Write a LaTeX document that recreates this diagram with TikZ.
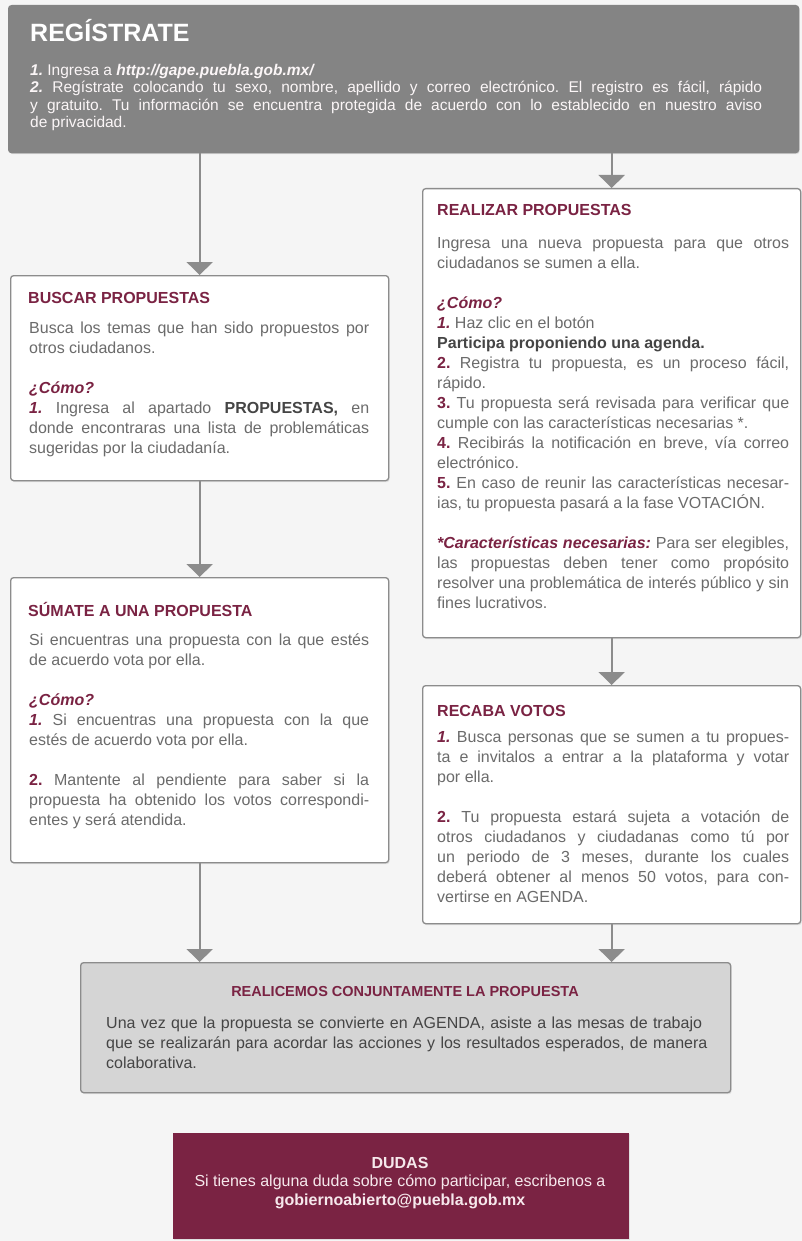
\documentclass[tikz,border=0pt]{standalone}
\usepackage{fontspec}
\setmainfont{Liberation Sans}
\usetikzlibrary{arrows.meta, shadows, positioning}
\frenchspacing
\definecolor{vino}{HTML}{7A2343}
\definecolor{letra}{HTML}{6B6B6B}
\definecolor{oscuro}{HTML}{454545}
\definecolor{borde}{HTML}{8C8C8C}
\definecolor{banda}{HTML}{848484}
\definecolor{fondo}{HTML}{F5F5F5}
\definecolor{gris}{HTML}{D5D5D5}
\definecolor{rosa}{HTML}{F6E8EC}
\newcommand{\nro}[1]{{\color{vino}\bfseries #1}}
\newcommand{\como}{{\color{vino}\bfseries\itshape ¿Cómo?}}
\newcommand{\fuerte}[1]{{\color{oscuro}\bfseries #1}}
\tikzstyle{caja}=[draw=borde, line width=1.3pt, rounded corners=3pt, fill=white, inner sep=0pt, anchor=north west, drop shadow={opacity=.18, shadow xshift=1pt, shadow yshift=-1.5pt}]
\tikzstyle{tit}=[anchor=base west, inner sep=0pt, text=vino, font=\fontsize{16}{18}\selectfont\bfseries]
\tikzstyle{cuerpo}=[anchor=north west, inner sep=0pt, text=letra, align=justify, font=\fontsize{16}{20}\selectfont]
\tikzstyle{flecha}=[draw=borde, line width=2pt, -{Triangle[width=26pt,length=13pt]}]

\begin{document}
\begin{tikzpicture}[x=1pt,y=-1pt]
\useasboundingbox (0,0) rectangle (802,1241);
\fill[fondo] (0,0) rectangle (802,1241);
% cajas
\node[caja, fill=banda, draw=banda, minimum width=790pt, minimum height=147pt] (reg) at (8,5) {};
\node[caja, minimum width=378pt, minimum height=205pt] (buscar) at (10,275) {};
\node[caja, minimum width=378pt, minimum height=285pt] (sumate) at (10,577) {};
\node[caja, minimum width=378pt, minimum height=449pt] (realizar) at (422,188) {};
\node[caja, minimum width=378pt, minimum height=238pt] (recaba) at (422,685) {};
\node[caja, fill=gris, minimum width=650pt, minimum height=130pt] (juntos) at (80,962) {};
\node[caja, fill=vino, draw=none, rounded corners=0pt, minimum width=456pt, minimum height=106pt] (dudas) at (172,1132) {};
% flechas
\draw[flecha] (buscar.north |- reg.south) -- (buscar);
\draw[flecha] (realizar.north |- reg.south) -- (realizar);
\foreach \a/\b in {buscar/sumate, realizar/recaba} \draw[flecha] (\a) -- (\b);
\foreach \a in {sumate, recaba} \draw[flecha] (\a) -- (\a.south |- juntos.north);
% textos
\node[tit, text=white, font=\fontsize{25}{28}\selectfont\bfseries] (reg-t) at (30,42) {REGÍSTRATE};
\node[cuerpo, text=rosa!40!white, text width=732pt, font=\fontsize{15.5}{17.5}\selectfont] (reg-c) at (30,63) {\strut\textbf{\textit{1.}} Ingresa a \textbf{\textit{http://gape.puebla.gob.mx/}}\\
  \textbf{\textit{2.}} Regístrate colocando tu sexo, nombre, apellido y correo electrónico. El registro es fácil, rápido\linebreak y gratuito. Tu información se encuentra protegida de acuerdo con lo establecido en nuestro aviso\linebreak de privacidad.};

\node[tit] (buscar-t) at (28,303) {BUSCAR PROPUESTAS};
\node[cuerpo, text width=340pt] (buscar-c) at (29,319) {\strut Busca los temas que han sido propuestos por\linebreak otros ciudadanos.\\[20pt]
  \como\\
  \nro{\itshape 1.} Ingresa al apartado \fuerte{PROPUESTAS,} en\linebreak donde encontraras una lista de problemáticas\linebreak sugeridas por la ciudadanía.};

\node[tit] (sumate-t) at (28,616) {SÚMATE A UNA PROPUESTA};
\node[cuerpo, text width=340pt] (sumate-c) at (29,631) {\strut Si encuentras una propuesta con la que estés\linebreak de acuerdo vota por ella.\\[20pt]
  \como\\
  \nro{\itshape 1.} Si encuentras una propuesta con la que\linebreak estés de acuerdo vota por ella.\\[20pt]
  \nro{2.} Mantente al pendiente para saber si la\linebreak propuesta ha obtenido los votos correspondi-\linebreak entes y será atendida.};

\node[tit] (realizar-t) at (437,216) {REALIZAR PROPUESTAS};
\node[cuerpo, text width=352pt] (realizar-c) at (437,234) {\strut Ingresa una nueva propuesta para que otros\linebreak ciudadanos se sumen a ella.\\[20pt]
  \como\\
  \nro{\itshape 1.} Haz clic en el botón\\
  \fuerte{Participa proponiendo una agenda.}\\
  \nro{2.} Registra tu propuesta, es un proceso fácil,\linebreak rápido.\\
  \nro{3.} Tu propuesta será revisada para verificar que\linebreak cumple con las características necesarias *.\\
  \nro{4.} Recibirás la notificación en breve, vía correo\linebreak electrónico.\\
  \nro{5.} En caso de reunir las características necesar-\linebreak ias, tu propuesta pasará a la fase VOTACIÓN.\\[20pt]
  {\color{vino}\bfseries\itshape *Características necesarias:} Para ser elegibles,\linebreak las propuestas deben tener como propósito\linebreak resolver una problemática de interés público y sin\linebreak fines lucrativos.};

\node[tit] (recaba-t) at (437,716) {RECABA VOTOS};
\node[cuerpo, text width=352pt] (recaba-c) at (437,728) {\strut\nro{\itshape 1.} Busca personas que se sumen a tu propues-\linebreak ta e invitalos a entrar a la plataforma y votar\linebreak por ella.\\[20pt]
  \nro{2.} Tu propuesta estará sujeta a votación de\linebreak otros ciudadanos y ciudadanas como tú por\linebreak un periodo de 3 meses, durante los cuales\linebreak deberá obtener al menos 50 votos, para con-\linebreak vertirse en AGENDA.};

\node[tit, anchor=base, font=\fontsize{14.5}{18}\selectfont\bfseries] (juntos-t) at (405,996) {REALICEMOS CONJUNTAMENTE LA PROPUESTA};
\node[cuerpo, text=oscuro, text width=610pt, align=left] (juntos-c) at (106,1014) {\strut Una vez que la propuesta se convierte en AGENDA, asiste a las mesas de trabajo\\
  que se realizarán para acordar las acciones y los resultados esperados, de manera\\
  colaborativa.};

\node[anchor=north, inner sep=0pt, align=center, text=rosa, font=\fontsize{16}{18.5}\selectfont] (dudas-c) at (400,1155) {\strut\textbf{DUDAS}\\
  Si tienes alguna duda sobre cómo participar, escribenos a\\
  \textbf{gobiernoabierto@puebla.gob.mx}};
\end{tikzpicture}
\end{document}
